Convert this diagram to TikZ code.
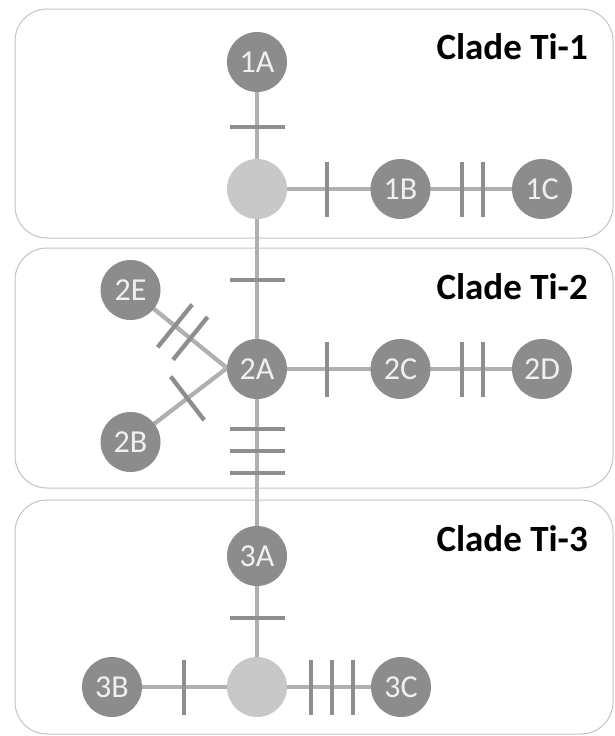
\documentclass[tikz,border=0pt]{standalone}
\usepackage{fontspec}
\setmainfont{Carlito}
\usetikzlibrary{calc}
\definecolor{nodegray}{RGB}{140,140,140}
\definecolor{hidgray}{RGB}{200,200,200}
\definecolor{linegray}{RGB}{176,176,176}
\definecolor{tickgray}{RGB}{142,142,142}
\definecolor{boxgray}{RGB}{195,195,195}
\definecolor{labelwhite}{RGB}{240,240,240}
\tikzset{
  cladebox/.style={draw=boxgray, line width=1pt, rounded corners=32pt},
  hap/.style={circle, fill=nodegray, minimum size=60pt, inner sep=0pt, text=labelwhite, font=\fontsize{32}{34}\selectfont},
  hid/.style={circle, fill=hidgray, minimum size=60pt, inner sep=0pt},
  conn/.style={draw=linegray, line width=4.3pt},
  tickline/.style={draw=tickgray, line width=4.3pt},
  cladetitle/.style={anchor=base east, font=\bfseries\fontsize{37}{40}\selectfont, inner sep=0pt}
}
\newcommand\mytick[3]{%
  \coordinate (tkp) at ($(#1)!#3!(#2)$);
  \draw[tickline] ($(tkp)!27.5pt!90:(#2)$) -- ($(tkp)!27.5pt!-90:(#2)$);}
\begin{document}
\begin{tikzpicture}[x=1pt, y=-1pt]
\useasboundingbox (0,0) rectangle (615,736);
% clade boxes
\draw[cladebox] (15,9) rectangle (613,238);
\draw[cladebox] (15,248) rectangle (613,488);
\draw[cladebox] (15,500) rectangle (613,734);
\node[cladetitle] (t1) at (588,59) {Clade Ti-1};
\node[cladetitle] (t2) at (588,299) {Clade Ti-2};
\node[cladetitle] (t3) at (588,551) {Clade Ti-3};
% node positions
\coordinate (p1A) at (257,62);
\coordinate (pH1) at (257,189);
\coordinate (p1B) at (400.5,189);
\coordinate (p1C) at (542,189);
\coordinate (p2A) at (257,369);
\coordinate (p2C) at (400.5,369);
\coordinate (p2D) at (542,369);
\coordinate (p2E) at (130.5,290);
\coordinate (p2B) at (130.5,442);
\coordinate (p3A) at (257,556);
\coordinate (pH3) at (257,687);
\coordinate (p3B) at (112,687);
\coordinate (p3C) at (401,687);
\coordinate (j2) at (227,368);
% connectors
\draw[conn] (p1A) -- (pH1);
\draw[conn] (pH1) -- (p1B);
\draw[conn] (p1B) -- (p1C);
\draw[conn] (pH1) -- (p2A);
\draw[conn] (p2A) -- (p2C);
\draw[conn] (p2C) -- (p2D);
\draw[conn] (p2E) -- (j2);
\draw[conn] (p2B) -- (j2);
\draw[conn] (p2A) -- (p3A);
\draw[conn] (p3A) -- (pH3);
\draw[conn] (p3B) -- (pH3);
\draw[conn] (pH3) -- (p3C);
% mutation ticks
\mytick{p1A}{pH1}{0.51}
\mytick{pH1}{p1B}{0.488}
\mytick{p1B}{p1C}{0.435}
\mytick{p1B}{p1C}{0.583}
\mytick{pH1}{p2A}{0.506}
\mytick{p2A}{p2C}{0.487}
\mytick{p2C}{p2D}{0.435}
\mytick{p2C}{p2D}{0.583}
\mytick{p2E}{j2}{0.46}
\mytick{p2E}{j2}{0.62}
\mytick{p2B}{j2}{0.59}
\mytick{p2A}{p3A}{0.321}
\mytick{p2A}{p3A}{0.438}
\mytick{p2A}{p3A}{0.556}
\mytick{p3A}{pH3}{0.473}
\mytick{p3B}{pH3}{0.497}
\mytick{pH3}{p3C}{0.375}
\mytick{pH3}{p3C}{0.521}
\mytick{pH3}{p3C}{0.667}
% haplotype nodes
\node[hap] (n1A) at (p1A) {1A};
\node[hid] (nH1) at (pH1) {};
\node[hap] (n1B) at (p1B) {1B};
\node[hap] (n1C) at (p1C) {1C};
\node[hap] (n2A) at (p2A) {2A};
\node[hap] (n2C) at (p2C) {2C};
\node[hap] (n2D) at (p2D) {2D};
\node[hap] (n2E) at (p2E) {2E};
\node[hap] (n2B) at (p2B) {2B};
\node[hap] (n3A) at (p3A) {3A};
\node[hid] (nH3) at (pH3) {};
\node[hap] (n3B) at (p3B) {3B};
\node[hap] (n3C) at (p3C) {3C};
\end{tikzpicture}
\end{document}
